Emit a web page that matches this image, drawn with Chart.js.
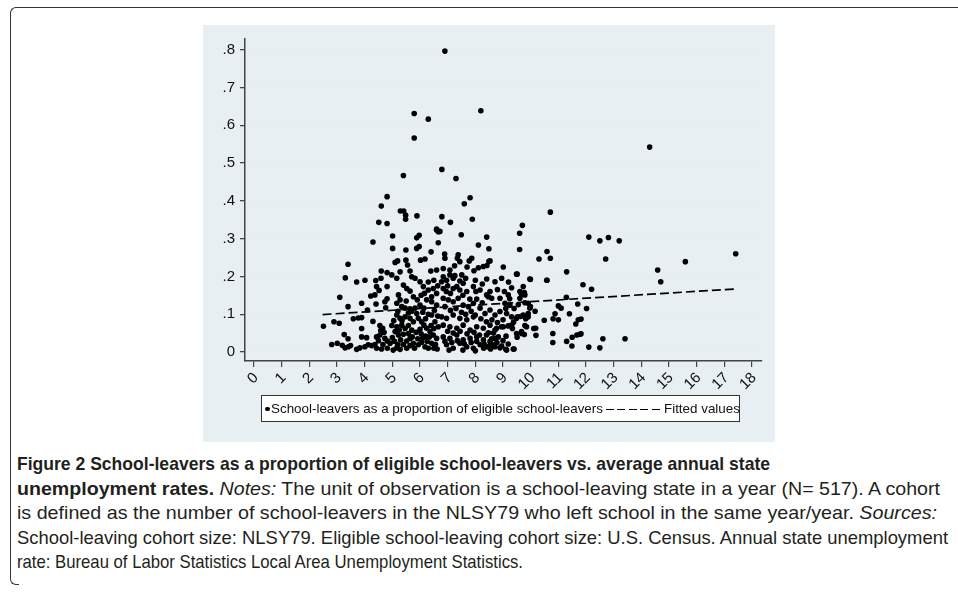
<!DOCTYPE html>
<html>
<head>
<meta charset="utf-8">
<script src="https://cdn.jsdelivr.net/npm/chart.js@4"></script>
<style>
  html, body { margin: 0; padding: 0; background: #fff; }
  body { width: 958px; height: 593px; position: relative; overflow: hidden; }
  .frame {
    position: absolute; left: 10px; top: 7px; width: 970px; height: 566px;
    border-left: 1.5px solid #333; border-top: 1.5px solid #333;
    border-top-left-radius: 6px;
  }
  .frame-foot {
    position: absolute; left: 10px; top: 572px; width: 8px; height: 12px;
    border-left: 1.5px solid #333; border-bottom: 1.5px solid #333; border-bottom-left-radius: 6px;
  }
  #panel { position: absolute; left: 203px; top: 25px; width: 572px; height: 417px; background: #e8eff2; }
  #legend {
    position: absolute; left: 261px; top: 395px; width: 479px; height: 27px; box-sizing: border-box;
    border: 1px solid #333; background: #fff; font-family: "Liberation Sans", Arial, sans-serif;
    font-size: 13.4px; color: #111; white-space: nowrap;
  }
  #legend span { position: absolute; }
  #legend .dot { left: 3px; top: 10.5px; width: 4.5px; height: 4.5px; border-radius: 50%; background: #000; }
  #legend .txt { top: 4px; line-height: 17px; }
  #legend .dash {
    left: 344px; top: 12.5px; width: 55px; height: 1.6px;
    background: repeating-linear-gradient(to right, #000 0 8px, transparent 8px 11.5px);
  }
  #caption {
    position: absolute; left: 17px; top: 452px; font-family: "Liberation Sans", sans-serif;
    font-size: 18.5px; line-height: 24.5px; color: #231f20;
  }
  #caption .ln { display: block; white-space: nowrap; transform-origin: 0 50%; width: max-content; }
  #caption b { font-weight: bold; }
</style>
</head>
<body>
<div class="frame"></div>
<div class="frame-foot"></div>
<div id="panel"><canvas id="scatterChart"></canvas></div>
<div id="legend">
  <span class="dot"></span><span class="txt" style="left:9px">School-leavers as a proportion of eligible school-leavers</span>
  <span class="dash"></span><span class="txt" style="left:402px">Fitted values</span>
</div>
<div id="caption">
  <span class="ln" data-w="753"><b>Figure 2 School-leavers as a proportion of eligible school-leavers vs. average annual state</b></span>
  <span class="ln" data-w="923"><b>unemployment rates.</b> <i>Notes:</i> The unit of observation is a school-leaving state in a year (N= 517). A cohort</span>
  <span class="ln" data-w="920">is defined as the number of school-leavers in the NLSY79 who left school in the same year/year. <i>Sources:</i></span>
  <span class="ln" data-w="931">School-leaving cohort size: NLSY79. Eligible school-leaving cohort size: U.S. Census. Annual state unemployment</span>
  <span class="ln" data-w="506">rate: Bureau of Labor Statistics Local Area Unemployment Statistics.</span>
</div>
<script>
// axis ticks
const xTicks = [0, 1, 2, 3, 4, 5, 6, 7, 8, 9, 10, 11, 12, 13, 14, 15, 16, 17, 18];
const yTicks = [0, 0.1, 0.2, 0.3, 0.4, 0.5, 0.6, 0.7, 0.8];
const yTickLabels = ['0', '.1', '.2', '.3', '.4', '.5', '.6', '.7', '.8'];

// [unemployment rate, school-leavers share]
const leaverPoints = [
  [6.90,0.796],[5.79,0.631],[6.30,0.616],[5.79,0.566],[5.40,0.467],[6.79,0.483],[7.30,0.459],[4.81,0.411],
  [4.60,0.386],[5.29,0.373],[5.41,0.373],[5.48,0.362],[5.48,0.351],[5.89,0.360],[6.79,0.358],[4.51,0.343],
  [4.81,0.340],[7.10,0.343],[7.60,0.392],[7.81,0.408],[7.89,0.351],[6.60,0.325],[8.20,0.638],[14.30,0.542],
  [10.71,0.370],[9.70,0.335],[9.60,0.314],[8.41,0.304],[8.11,0.283],[8.49,0.273],[9.60,0.271],[12.10,0.304],
  [12.50,0.294],[12.81,0.303],[13.20,0.294],[17.41,0.260],[15.59,0.239],[14.59,0.217],[14.70,0.186],[12.71,0.246],
  [10.59,0.266],[10.71,0.248],[10.30,0.246],[4.30,0.291],[5.01,0.307],[5.01,0.274],[5.49,0.270],[5.88,0.302],
  [5.97,0.309],[5.88,0.274],[5.97,0.279],[6.40,0.265],[6.60,0.323],[6.66,0.318],[6.66,0.289],[6.72,0.319],
  [7.49,0.310],[6.89,0.259],[7.38,0.257],
  [3.10,0.145],[3.40,0.120],[3.30,0.196],[3.40,0.232],[3.71,0.185],[4.01,0.190],[3.89,0.129],[4.22,0.148],
  [4.37,0.151],[4.10,0.111],[4.40,0.189],[4.43,0.173],[4.60,0.214],[4.59,0.195],[4.81,0.210],[4.52,0.163],
  [4.81,0.173],[4.81,0.141],[4.73,0.133],[4.41,0.127],[4.76,0.117],[4.98,0.204],[5.16,0.195],[5.28,0.212],
  [5.10,0.237],[5.19,0.241],[5.49,0.243],[5.55,0.230],[5.64,0.214],[5.70,0.199],[5.82,0.195],[6.02,0.243],
  [6.18,0.246],[6.39,0.214],[6.60,0.217],[6.00,0.186],[6.12,0.173],[6.30,0.164],[5.22,0.151],[5.28,0.138],
  [5.16,0.129],[5.40,0.177],[5.52,0.168],[5.64,0.161],[5.76,0.146],[5.90,0.138],[5.34,0.120],[5.46,0.116],
  [5.64,0.114],[5.82,0.116],[6.00,0.124],[6.14,0.116],[6.48,0.168],[6.60,0.155],[6.42,0.146],[6.24,0.138],
  [6.42,0.133],[6.60,0.124],
  [2.51,0.068],[2.89,0.080],[3.08,0.076],[2.81,0.020],[3.01,0.023],[3.19,0.018],[3.29,0.011],[3.41,0.014],
  [3.26,0.046],[3.40,0.035],[3.59,0.088],[3.77,0.090],[3.89,0.091],[4.30,0.081],[3.89,0.062],[4.55,0.070],
  [4.65,0.063],[3.49,0.017],[3.71,0.007],[3.83,0.011],[4.01,0.014],[4.13,0.019],[4.25,0.017],[4.37,0.020],
  [3.89,0.040],[4.07,0.038],[4.43,0.040],[4.55,0.045],[4.73,0.036],[4.82,0.029],[4.92,0.023],[4.43,0.010],
  [4.61,0.008],[4.82,0.010],[5.03,0.005],[5.16,0.011],[5.28,0.007],[4.98,0.070],[5.16,0.067],[5.34,0.071],
  [5.10,0.054],[5.22,0.045],[5.40,0.047],[5.58,0.049],[5.46,0.093],[5.64,0.089],[5.76,0.080],[5.16,0.098],
  [5.28,0.089],[5.88,0.102],[5.94,0.089],[6.06,0.080],[6.14,0.071],[6.24,0.063],[6.36,0.054],[6.48,0.045],
  [6.60,0.036],[6.42,0.023],[5.76,0.023],[5.94,0.019],[6.06,0.026],[6.18,0.014],[6.30,0.010],[5.52,0.010],
  [5.64,0.017],[5.64,0.036],[5.52,0.029],[6.54,0.080],[6.66,0.067],[6.42,0.098],
  [6.90,0.248],[7.35,0.248],[7.44,0.239],[7.78,0.241],[7.87,0.248],[8.53,0.241],[8.11,0.223],[8.29,0.226],
  [9.01,0.225],[6.84,0.221],[7.08,0.217],[6.84,0.199],[7.08,0.204],[7.26,0.202],[7.51,0.204],[6.78,0.186],
  [6.96,0.190],[7.20,0.195],[7.44,0.188],[7.56,0.182],[8.41,0.193],[8.71,0.186],[9.49,0.206],[9.97,0.193],
  [10.58,0.190],[6.84,0.168],[7.20,0.168],[7.33,0.173],[7.44,0.164],[7.69,0.160],[7.93,0.173],[8.02,0.160],
  [8.17,0.164],[8.41,0.151],[8.59,0.142],[8.53,0.160],[9.31,0.170],[9.19,0.151],[9.61,0.160],[9.73,0.173],
  [9.79,0.151],[8.89,0.142],[9.07,0.129],[9.25,0.124],[9.61,0.142],[9.91,0.129],[9.97,0.116],[6.84,0.142],
  [7.02,0.138],[7.20,0.133],[7.38,0.142],[7.56,0.124],[7.75,0.120],[7.93,0.129],[8.17,0.116],[8.35,0.102],
  [8.53,0.111],[8.71,0.098],[8.89,0.107],[9.13,0.102],[9.31,0.093],[9.49,0.089],[9.73,0.098],[6.78,0.093],
  [6.96,0.089],[7.20,0.098],[7.44,0.089],[7.69,0.085],[7.93,0.093],[6.84,0.071],[7.08,0.067],[7.33,0.063],
  [7.56,0.071],[7.81,0.058],[8.05,0.067],[8.29,0.063],[8.53,0.071],[8.77,0.063],[9.01,0.067],[6.84,0.040],
  [7.08,0.036],[7.33,0.045],[7.56,0.032],[7.81,0.036],[8.05,0.040],[8.29,0.032],[8.53,0.028],[8.71,0.036],
  [6.96,0.019],[7.20,0.010],[7.44,0.023],[7.69,0.014],[7.93,0.010],[8.17,0.019],[8.41,0.014],[8.65,0.019],
  [8.89,0.011],[9.13,0.005],[9.37,0.008],[9.31,0.071],[9.49,0.049],[9.67,0.054],[9.85,0.067],
  [8.49,0.240],[8.42,0.229],[11.89,0.178],[12.20,0.166],[9.77,0.157],[9.67,0.153],[8.47,0.146],[9.24,0.141],
  [9.79,0.130],[11.29,0.145],[11.70,0.127],[12.02,0.115],[11.00,0.122],[11.10,0.116],[10.88,0.101],[10.49,0.084],
  [10.81,0.088],[11.00,0.085],[11.40,0.101],[11.72,0.085],[11.82,0.087],[11.63,0.074],[11.77,0.047],[11.67,0.045],
  [11.50,0.039],[11.30,0.028],[11.49,0.016],[10.80,0.049],[10.80,0.025],[12.10,0.013],[12.50,0.011],[12.61,0.035],
  [13.41,0.035],[10.18,0.063],[10.11,0.062],[10.19,0.044],[9.99,0.120],[10.16,0.108],[9.91,0.102],[9.91,0.093],
  [9.82,0.088],[9.52,0.093],[9.64,0.094],[9.79,0.070],[9.38,0.079],[9.67,0.049],[9.77,0.046],[9.51,0.039],
  [9.11,0.042],[9.40,0.008],[9.10,0.007],[8.95,0.016],[8.71,0.014],[8.53,0.018],[8.32,0.021],[9.19,0.021],
  [8.83,0.040],[8.59,0.035],[8.95,0.067],[8.71,0.058],[8.47,0.051],[9.19,0.069],[9.34,0.062],[11.82,0.048],
  [11.30,0.212],[10.59,0.190],[9.99,0.192],[9.51,0.206],
  // the packed band below .15
  [4.50,0.030],[4.66,0.020],[4.70,0.052],[4.58,0.057],[5.00,0.038],[5.08,0.028],[5.20,0.020],[5.30,0.032],
  [5.25,0.058],[5.05,0.083],[5.35,0.083],[5.20,0.108],[5.40,0.020],[5.46,0.062],[5.58,0.070],[5.70,0.058],
  [5.72,0.040],[5.80,0.010],[5.58,0.103],[5.70,0.108],[5.50,0.135],[5.86,0.052],[5.92,0.035],[6.00,0.060],
  [6.04,0.048],[6.10,0.037],[6.20,0.042],[6.26,0.028],[6.34,0.040],[6.40,0.070],[6.50,0.062],[6.56,0.020],
  [6.62,0.008],[6.50,0.010],[6.20,0.088],[6.30,0.100],[6.10,0.105],[6.52,0.110],[6.64,0.095],[6.04,0.150],
  [6.16,0.155],[6.30,0.185],[6.50,0.190],[6.64,0.175],
  [6.90,0.120],[7.10,0.110],[7.30,0.115],[7.50,0.105],[7.65,0.100],[7.85,0.108],[8.00,0.098],[8.20,0.088],
  [8.40,0.080],[8.60,0.085],[8.80,0.078],[9.00,0.085],[7.00,0.055],[7.20,0.050],[7.45,0.055],[7.70,0.048],
  [7.95,0.052],[8.15,0.045],[8.40,0.045],[8.65,0.050],[6.90,0.028],[7.15,0.025],[7.35,0.030],[7.60,0.022],
  [7.85,0.025],[8.05,0.028],[8.30,0.010],[8.55,0.008],[8.78,0.025],[9.00,0.030],[7.05,0.005],[7.55,0.005],
  [8.00,0.003],[6.95,0.160],[7.10,0.155],[7.55,0.150],[7.80,0.140],[8.05,0.140],[8.25,0.130],[7.00,0.175],
  [7.65,0.195],[8.00,0.190],[8.25,0.180],[7.95,0.215],[7.70,0.225],[7.25,0.228],[8.80,0.165],[9.05,0.160],
  [8.95,0.195],[9.20,0.185],[9.40,0.115],[9.55,0.125],[9.10,0.115]
];

// fitted values, end points
const fitX = [2.48, 17.44];
const fitY = [0.099, 0.167];

const canvas = document.getElementById('scatterChart');
canvas.width = 572;
canvas.height = 417;
canvas.style.width = '572px';
canvas.style.height = '417px';
const ctx = canvas.getContext('2d');

const tickFont = { family: '"Liberation Sans", Arial, sans-serif', size: 15 };

const config = {
  type: 'scatter',
  data: {
    datasets: [{
      label: 'School-leavers as a proportion of eligible school-leavers',
      data: leaverPoints.map(p => ({ x: p[0], y: p[1] })),
      pointRadius: 2.8,
      pointBackgroundColor: '#000',
      pointBorderWidth: 0,
      showLine: false
    }, {
      type: 'line',
      label: 'Fitted values',
      data: fitX.map((x, i) => ({ x: x, y: fitY[i] })),
      borderColor: '#000',
      borderWidth: 1.7,
      borderDash: [9, 4],
      pointRadius: 0,
      fill: false
    }]
  },
  options: {
    responsive: false,
    animation: false,
    layout: { padding: { top: 14, right: 13, left: 0, bottom: 0 } },
    plugins: { legend: { display: false }, tooltip: { enabled: false } },
    scales: {
      x: {
        type: 'linear',
        min: -0.325,
        max: 18.36,
        afterBuildTicks: s => { s.ticks = xTicks.map(v => ({ value: v })); },
        afterFit: s => { s.height = 81; },
        grid: { drawOnChartArea: false, tickLength: 6, tickColor: '#444', lineWidth: 1.2 },
        border: { color: '#444', width: 1.5 },
        ticks: { autoSkip: false, minRotation: 45, maxRotation: 45, color: '#111', font: tickFont, padding: 2, labelOffset: 2 }
      },
      y: {
        min: -0.0238,
        max: 0.828,
        afterBuildTicks: s => { s.ticks = yTicks.map(v => ({ value: v })); },
        afterFit: s => { s.width = 42; },
        grid: { color: '#e4edf0', lineWidth: 1.3, tickLength: 5, tickColor: '#444' },
        border: { color: '#444', width: 1.5 },
        ticks: { color: '#111', font: tickFont, padding: 5, callback: (v, i) => yTickLabels[i] }
      }
    }
  }
};

const scatterChart = new Chart(ctx, config);

// squeeze each caption line to the width it has in the figure
document.querySelectorAll('#caption .ln').forEach(el => {
  const w = el.getBoundingClientRect().width;
  el.style.transform = 'scaleX(' + (parseFloat(el.dataset.w) / w) + ')';
});
</script>
</body>
</html>
